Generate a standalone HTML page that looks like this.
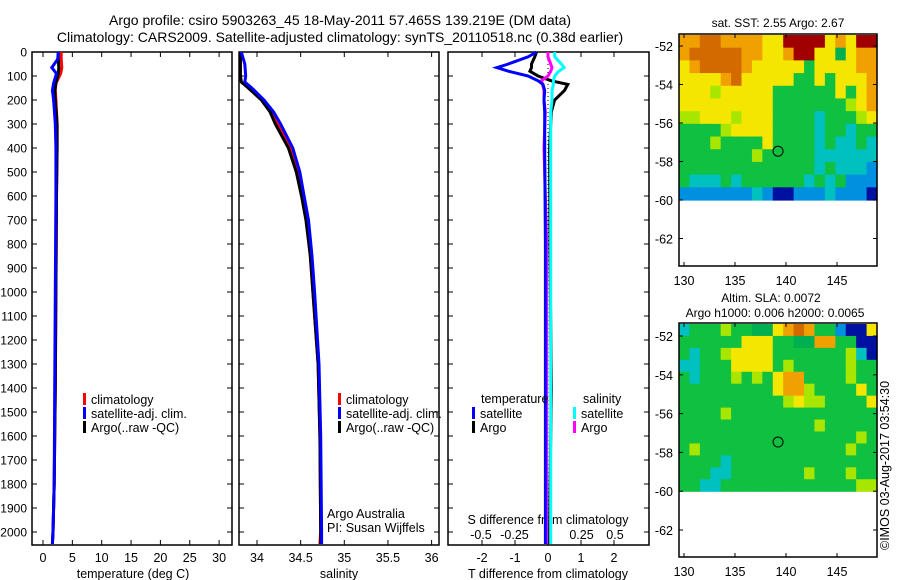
<!DOCTYPE html>
<html><head><meta charset="utf-8"><style>
html,body{margin:0;padding:0;background:#fff;}
svg{display:block;font-family:"Liberation Sans",sans-serif;}
</style></head><body>
<svg id="c" width="900" height="580" viewBox="0 0 900 580" xmlns="http://www.w3.org/2000/svg">
<text x="340" y="25" font-size="14" text-anchor="middle">Argo profile: csiro 5903263_45 18-May-2011 57.465S 139.219E (DM data)</text>
<text x="340" y="42" font-size="14" text-anchor="middle">Climatology: CARS2009. Satellite-adjusted climatology: synTS_20110518.nc (0.38d earlier)</text>
<g id="g"></g>
<text transform="translate(889,550) rotate(-90)" font-size="12.5">©IMOS 03-Aug-2017 03:54:30</text>
</svg>
<script>
// ---- data ----
const depthT = [0, 30, 65, 90, 130, 160, 200, 300, 400, 600, 1000, 1400, 1800, 2000, 2050];
const tempClim = [3.1, 3.1, 3.2, 3.0, 2.2, 2.1, 2.2, 2.4, 2.4, 2.3, 2.2, 2.1, 1.9, 1.7, 1.6];
const tempSat = [2.6, 2.5, 1.5, 2.3, 1.8, 1.6, 1.8, 2.1, 2.2, 2.2, 2.1, 2.0, 1.9, 1.7, 1.6];
const tempArgo = [2.6, 2.6, 2.7, 2.6, 2.2, 2.0, 2.1, 2.4, 2.4, 2.3, 2.2, 2.1, 1.9, 1.7, 1.6];
const depthS = [0, 50, 100, 125, 150, 200, 250, 300, 400, 500, 600, 700, 850, 1000, 1300, 1600, 2000, 2050];
const salClim = [33.81, 33.81, 33.81, 33.82, 33.92, 34.06, 34.16, 34.23, 34.39, 34.47, 34.52, 34.57, 34.61, 34.64, 34.70, 34.72, 34.73, 34.72];
const salSat = [33.82, 33.86, 33.87, 33.86, 33.94, 34.08, 34.19, 34.27, 34.41, 34.49, 34.54, 34.59, 34.63, 34.66, 34.71, 34.73, 34.74, 34.74];
const salArgo = [33.81, 33.81, 33.81, 33.82, 33.90, 34.05, 34.15, 34.21, 34.36, 34.45, 34.51, 34.56, 34.61, 34.64, 34.70, 34.72, 34.73, 34.73];
const depthD = [0, 20, 50, 65, 80, 100, 120, 135, 160, 200, 250, 400, 800, 1400, 2000, 2050];
const diffTSat = [-0.35, -0.6, -1.2, -1.55, -1.2, -0.6, -0.3, -0.15, -0.1, -0.12, -0.1, -0.1, -0.08, -0.08, -0.08, -0.08];
const diffTArgo = [-0.35, -0.4, -0.5, -0.5, -0.55, -0.3, 0.1, 0.6, 0.5, 0.2, 0.1, 0.05, 0.06, 0.1, 0.05, 0.05];
const diffSSat = [0.05, 0.05, 0.10, 0.12, 0.08, 0.05, 0.04, 0.04, 0.03, 0.03, 0.02, 0.02, 0.02, 0.02, 0.02, 0.02];
const diffSArgo = [0.0, 0.0, 0.02, 0.03, 0.02, 0.0, -0.05, -0.04, -0.03, -0.03, -0.02, -0.03, -0.01, -0.01, -0.01, -0.01];
const depthTicks = [0,100,200,300,400,500,600,700,800,900,1000,1100,1200,1300,1400,1500,1600,1700,1800,1900,2000];
const tempTicks = [0,5,10,15,20,25,30];
const salTicks = [34,34.5,35,35.5,36];
const tDiffTicks = [-2,-1,0,1,2];
const sDiffTicks = [-0.5,-0.25,0,0.25,0.5];
const lonTicks = [130,135,140,145];
const latTicks = [-52,-54,-56,-58,-60,-62];
// SST map grid (rows north->south); letters = colour classes
const sstRows = [
"ooOOooooyyRRRRyoyRR",
"oOOOOOooyyoRRyyGyoo",
"yoOOOOoyyyyygyyyyoo",
"yyyyoOyyyyyggygyyyo",
"yyylyyyyyggggggygyo",
"yyyyyyyyyggggggglyo",
"llyyylyyyggggcgggly",
"gggglyyyyggggcggcgg",
"ggglggggyggggcgccgc",
"ggggggglgggggcccccc",
"gggggggggggggcgcccb",
"gcccgcggggggcgcgbbb",
"bbbbbbbcbBBbbbcbbbB"];
const slaRows = [
"cggglggGGyoOoggbBBy",
"ggggggyyyggGGooggBB",
"gcgglyyyyggggggglcB",
"ccgggyyyyglggggglgg",
"gcggglglgyoogggglgg",
"gggggggggyoolggggyg",
"gggggggggglyllggggy",
"gggglgggggggggggggg",
"ggggggggggggglggggg",
"ggggggggggggggggglg",
"glgggggggggggggglgg",
"ggggcgggggggggggggg",
"gggccggggggglggglgg",
"ggccgggggggggggggll"];

const SVGNS="http://www.w3.org/2000/svg";
const G=document.getElementById('g');
function mk(tag,attrs,parent){const e=document.createElementNS(SVGNS,tag);for(const k in attrs)e.setAttribute(k,attrs[k]);(parent||G).appendChild(e);return e;}
function txt(x,y,s,size,anchor,parent){const t=mk('text',{x:x,y:y,'font-size':size,'text-anchor':anchor||'middle'},parent);t.textContent=s;return t;}

const Y0=52, KY=0.24, YB=545;
const yD=d=>Y0+d*KY;
const xT=v=>43+v*5.87;
const xS=v=>257+(v-34)*87.3;
const xTd=v=>548+v*33;
const xSd=v=>548+v*134;

function panel(x0,x1,name){
  const r=mk('rect',{x:x0,y:Y0,width:x1-x0,height:YB-Y0,fill:'none',stroke:'#000','stroke-width':1.5});
  
  
}
panel(32,232,'temperature-panel');
panel(239,439,'salinity-panel');
panel(448,649,'difference-panel');

depthTicks.forEach(d=>{
  const y=yD(d);
  [[32,232],[239,439],[448,649]].forEach(p=>{
    mk('line',{x1:p[0],y1:y,x2:p[0]+5,y2:y,stroke:'#000'});
    mk('line',{x1:p[1],y1:y,x2:p[1]-5,y2:y,stroke:'#000'});
  });
  const t=txt(27,y+4.5,String(d),12,'end');
  
  
});
function xticks(vals,fx,ylab,cls){
  vals.forEach(v=>{
    const x=fx(v);
    mk('line',{x1:x,y1:YB,x2:x,y2:YB-5,stroke:'#000'});
    mk('line',{x1:x,y1:Y0,x2:x,y2:Y0+5,stroke:'#000'});
    const t=txt(x,ylab,String(v),12.5);
    
    
  });
}
xticks(tempTicks,xT,562,'temp-tick-label');
xticks(salTicks,xS,562,'salinity-tick-label');
xticks(tDiffTicks,xTd,562,'t-diff-tick-label');
sDiffTicks.forEach(v=>{
  const t=txt(xSd(v),539,String(v),12.5);
  
  
});
let t;
t=txt(133,578,'temperature (deg C)',12.5);
t=txt(339,578,'salinity',12.5);
t=txt(548,578,'T difference from climatology',12.5);
t=txt(548,524,'S difference from climatology',12.5);

const zl=mk('line',{x1:xTd(0),y1:Y0,x2:xTd(0),y2:YB,stroke:'#000','stroke-dasharray':'1,3'});



function series(depths,vals,fx,color,name){
  const pts=depths.map((d,i)=>fx(vals[i]).toFixed(1)+','+yD(d).toFixed(1)).join(' ');
  const p=mk('polyline',{points:pts,fill:'none',stroke:color,'stroke-width':3});
  
  
}
series(depthT,tempClim,xT,'#f00','temp-climatology-line');
series(depthT,tempArgo,xT,'#000','temp-argo-line');
series(depthT,tempSat,xT,'#00f','temp-satellite-line');
series(depthS,salClim,xS,'#f00','salinity-climatology-line');
series(depthS,salArgo,xS,'#000','salinity-argo-line');
series(depthS,salSat,xS,'#00f','salinity-satellite-line');
series(depthD,diffTArgo,xTd,'#000','t-diff-argo-line');
series(depthD,diffSArgo,xSd,'#f0f','s-diff-argo-line');
series(depthD,diffSSat,xSd,'#0ff','s-diff-satellite-line');
series(depthD,diffTSat,xTd,'#00f','t-diff-satellite-line');

function legend(x,y,items,name){
  const g=mk('g',{});
  
  
  items.forEach((it,i)=>{
    mk('rect',{x:x,y:y+i*14-6,width:3,height:12,fill:it[0]},g);
    txt(x+8,y+i*14+5,it[1],12.5,'start',g);
  });
  return g;
}
const li=[['#f00','climatology'],['#00f','satellite-adj. clim.'],['#000','Argo(..raw -QC)']];
legend(83,399,li,'temperature-legend');
legend(338,399,li,'salinity-legend');
const lg=mk('g',{});


txt(481,403,'temperature',12.5,'start',lg);
txt(583,403,'salinity',12.5,'start',lg);
legend(472,413,[['#00f','satellite'],['#000','Argo']],'t-diff-legend');
legend(573,413,[['#0ff','satellite'],['#f0f','Argo']],'s-diff-legend');
t=txt(327,518,'Argo Australia',12.5,'start');
t=txt(327,532,'PI: Susan Wijffels',12.5,'start');

// ---- maps ----
const colorMap={R:'#a00000',O:'#d26a00',o:'#f0a000',y:'#f5e600',l:'#a8e600',g:'#10c040',G:'#00b050',c:'#00c0c0',b:'#0090e0',B:'#0010a0'};
function map(top,bottom,latTop,pxDeg,rows,name){
  const L=679,R=877;
  const xL=v=>684+(v-130)*10.2;
  const yL=v=>latTop+(-52-v)*pxDeg;
  const dataTop=top+1, dataBot=yL(-60);
  const g=mk('g',{});
  
  
  const nr=rows.length, nc=rows[0].length;
  const cw=(R-L)/nc, ch=(dataBot-dataTop)/nr;
  rows.forEach((row,i)=>{for(let j=0;j<nc;j++){
    mk('rect',{x:(L+j*cw).toFixed(2),y:(dataTop+i*ch).toFixed(2),width:(cw+0.6).toFixed(2),height:(ch+0.6).toFixed(2),fill:colorMap[row[j]]},g);
  }});
  mk('rect',{x:L,y:top,width:R-L,height:bottom-top,fill:'none',stroke:'#000','stroke-width':1.5},g);
  lonTicks.forEach(v=>{
    mk('line',{x1:xL(v),y1:bottom,x2:xL(v),y2:bottom-4,stroke:'#000'},g);
    mk('line',{x1:xL(v),y1:top,x2:xL(v),y2:top+4,stroke:'#000'},g);
    txt(xL(v),bottom+19,String(v),12.5,'middle',g);
  });
  latTicks.forEach(v=>{
    mk('line',{x1:L,y1:yL(v),x2:L+4,y2:yL(v),stroke:'#000'},g);
    mk('line',{x1:R,y1:yL(v),x2:R-4,y2:yL(v),stroke:'#000'},g);
    txt(L-6,yL(v)+5,String(v),12.5,'end',g);
  });
  const c=mk('circle',{cx:xL(139.219),cy:yL(-57.465),r:5,fill:'none',stroke:'#000'},g);
  
  
  return g;
}
map(34,266,46,19.25,sstRows,'sst-map');
map(323,557,336,19.4,slaRows,'sla-map');
t=txt(778,27,'sat. SST: 2.55 Argo: 2.67',12);
t=txt(771,302,'Altim. SLA: 0.0072',12);
t=txt(775,317,'Argo h1000: 0.006 h2000: 0.0065',12);
</script>
</body></html>
